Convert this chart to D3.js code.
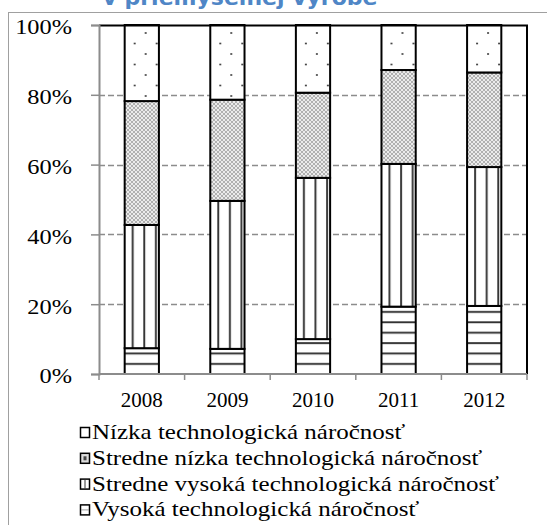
<!DOCTYPE html>
<html>
<head>
<meta charset="utf-8">
<script src="https://cdn.jsdelivr.net/npm/d3@7"></script>
<style>
  body { margin: 0; background: #fff; }
  svg { display: block; }
</style>
</head>
<body>
<svg id="chart" width="547" height="525"></svg>
<script>
// data (share in %)
const years = ["2008", "2009", "2010", "2011", "2012"];
const vysoka = [7.4, 7.2, 10.0, 19.3, 19.5];
const strVysoka = [35.3, 42.4, 46.2, 40.9, 39.8];
const strNizka = [35.5, 29.0, 24.4, 26.9, 27.1];
const nizka = [21.8, 21.4, 19.4, 12.9, 13.6];
const yTicks = [0, 20, 40, 60, 80, 100];
const legendLabels = [
  "Nízka technologická náročnosť",
  "Stredne nízka technologická náročnosť",
  "Stredne vysoká technologická náročnosť",
  "Vysoká technologická náročnosť"
];

const svg = d3.select("#chart");
const margin = {left: 99, top: 25, right: 20, bottom: 151};
const width = 547 - margin.left - margin.right;
const height = 525 - margin.top - margin.bottom;
const serif = "'Liberation Serif', 'Times New Roman', serif";

// outer frame + cut off title
svg.append("rect")
  .attr("x", 8.5).attr("y", 12.5).attr("width", 545).attr("height", 520)
  .attr("fill", "none").attr("stroke", "#a0a0a0").attr("stroke-width", 1);
svg.append("text")
  .attr("x", 240).attr("y", 5)
  .attr("text-anchor", "middle")
  .style("font-family", "'DejaVu Sans', Verdana, sans-serif")
  .style("font-weight", "bold").style("font-size", "22px")
  .attr("fill", "#4f86c6")
  .text("v priemyselnej výrobe");

const defs = svg.append("defs");

// dense dots
const pd = defs.append("pattern").attr("id", "dense")
  .attr("patternUnits", "userSpaceOnUse").attr("width", 4).attr("height", 4);
pd.append("rect").attr("width", 4).attr("height", 4).attr("fill", "#ebebeb");
pd.append("circle").attr("cx", 1).attr("cy", 1).attr("r", 0.8).attr("fill", "#666");
pd.append("circle").attr("cx", 3).attr("cy", 3).attr("r", 0.8).attr("fill", "#666");

// horizontal lines, anchored at bottom
const ph = defs.append("pattern").attr("id", "hlines")
  .attr("patternUnits", "userSpaceOnUse")
  .attr("x", 0).attr("y", margin.top + height - 4 - 1)
  .attr("width", 10).attr("height", 10.4);
ph.append("rect").attr("width", 10).attr("height", 10.4).attr("fill", "#fff");
ph.append("rect").attr("y", 0).attr("width", 10).attr("height", 2.2).attr("fill", "#999");
ph.append("rect").attr("y", 0.4).attr("width", 10).attr("height", 1.4).attr("fill", "#222");

const x = d3.scaleBand().domain(years).range([0, width]).paddingInner(0.6).paddingOuter(0.3);
const y = d3.scaleLinear().domain([0, 100]).range([height, 0]);

const g = svg.append("g").attr("transform", `translate(${margin.left},${margin.top})`);

// per-bar patterns (sparse dots, vertical lines) so they line up with each bar
years.forEach((yr, i) => {
  const bx = margin.left + x(yr);
  const pv = defs.append("pattern").attr("id", "vlines" + i)
    .attr("patternUnits", "userSpaceOnUse")
    .attr("x", bx + 1.7 - 1).attr("y", 0).attr("width", 11.6).attr("height", 10);
  pv.append("rect").attr("width", 11.6).attr("height", 10).attr("fill", "#fff");
  pv.append("rect").attr("x", 0).attr("width", 2.2).attr("height", 10).attr("fill", "#999");
  pv.append("rect").attr("x", 0.4).attr("width", 1.4).attr("height", 10).attr("fill", "#222");

  const ps = defs.append("pattern").attr("id", "sparse" + i)
    .attr("patternUnits", "userSpaceOnUse")
    .attr("x", bx).attr("y", margin.top).attr("width", 22).attr("height", 21);
  ps.append("rect").attr("width", 22).attr("height", 21).attr("fill", "#fff");
  ps.append("circle").attr("cx", 10).attr("cy", 4).attr("r", 1).attr("fill", "#333");
  ps.append("circle").attr("cx", 21).attr("cy", 14.5).attr("r", 1).attr("fill", "#333");
  ps.append("circle").attr("cx", -1).attr("cy", 14.5).attr("r", 1).attr("fill", "#333");
});

// grid
g.append("g").selectAll("line").data(yTicks.filter(d => d > 0 && d < 100)).join("line")
  .attr("x1", 0).attr("x2", width)
  .attr("y1", d => Math.round(y(d)) + 0.5).attr("y2", d => Math.round(y(d)) + 0.5)
  .attr("stroke", "#8c8c8c").attr("stroke-width", 1.3).attr("stroke-dasharray", "6,3");

// stacked bars
const series = [
  {key: "vysoka", values: vysoka, fill: i => "url(#hlines)"},
  {key: "strVysoka", values: strVysoka, fill: i => `url(#vlines${i})`},
  {key: "strNizka", values: strNizka, fill: i => "url(#dense)"},
  {key: "nizka", values: nizka, fill: i => `url(#sparse${i})`}
];
const rows = years.map((yr, i) => {
  const r = {year: yr};
  series.forEach(s => r[s.key] = s.values[i]);
  return r;
});
const stacked = d3.stack().keys(series.map(s => s.key))(rows);

stacked.forEach((layer, li) => {
  g.append("g").selectAll("rect").data(layer).join("rect")
    .attr("x", d => x(d.data.year))
    .attr("width", x.bandwidth())
    .attr("y", d => y(d[1]))
    .attr("height", d => y(d[0]) - y(d[1]))
    .attr("fill", (d, i) => series[li].fill(i))
    .attr("stroke", "#000").attr("stroke-width", 2);
});

// plot border top/right black
g.append("path")
  .attr("d", `M0,0.5H${width}V${height}`)
  .attr("fill", "none").attr("stroke", "#000").attr("stroke-width", 2);

// y axis
const yAxis = g.append("g")
  .call(d3.axisLeft(y).tickValues(yTicks).tickFormat(d => d + "%").tickSize(8).tickPadding(19));
yAxis.select(".domain").attr("stroke", "#8c8c8c").attr("stroke-width", 2);
yAxis.selectAll(".tick line").attr("stroke", "#8c8c8c").attr("stroke-width", 1.5);
// labels in the reference are drawn a little wider than the font
yAxis.selectAll("text").style("font-family", serif).style("font-size", "21px")
  .attr("fill", "#000").attr("dy", "0.42em")
  .attr("x", 0).attr("transform", "translate(-27,0) scale(1.16,1)");

// x axis with ticks at category boundaries
const xb = g.append("g").attr("transform", `translate(0,${height})`);
xb.append("line").attr("x1", 0).attr("x2", width).attr("stroke", "#8c8c8c").attr("stroke-width", 2);
xb.selectAll("line.tk").data(d3.range(years.length + 1)).join("line").attr("class", "tk")
  .attr("x1", d => d * width / years.length).attr("x2", d => d * width / years.length)
  .attr("y1", 0).attr("y2", 6).attr("stroke", "#8c8c8c").attr("stroke-width", 1.5);
xb.selectAll("text").data(years).join("text")
  .attr("x", d => x(d) + x.bandwidth() / 2).attr("y", 33)
  .attr("text-anchor", "middle")
  .style("font-family", serif).style("font-size", "21px")
  .text(d => d);

// legend
const legPat = ["#fff", "#dcdcdc", "#fff", "#fff"];
const leg = svg.append("g").attr("transform", "translate(80,0)");
legendLabels.forEach((lab, i) => {
  const yy = 439 + i * 25.8;
  const mk = leg.append("g");
  mk.append("rect").attr("x", 0.5).attr("y", yy - 11.5).attr("width", 9).attr("height", 10)
    .attr("fill", legPat[i]).attr("stroke", "#000").attr("stroke-width", 1.5);
  if (i === 1) {
    mk.append("rect").attr("x", 3.5).attr("y", yy - 8.5).attr("width", 3).attr("height", 4).attr("fill", "#444");
  }
  if (i === 2) {
    mk.append("line").attr("x1", 5).attr("x2", 5).attr("y1", yy - 11).attr("y2", yy - 2)
      .attr("stroke", "#333").attr("stroke-width", 1);
  }
  if (i === 3) {
    mk.append("line").attr("x1", 1).attr("x2", 9).attr("y1", yy - 6.5).attr("y2", yy - 6.5)
      .attr("stroke", "#888").attr("stroke-width", 0.8);
  }
  leg.append("text").attr("transform", `translate(12,${yy}) scale(1.19,1)`)
    .style("font-family", serif).style("font-size", "21px")
    .text(lab);
});
</script>
</body>
</html>
